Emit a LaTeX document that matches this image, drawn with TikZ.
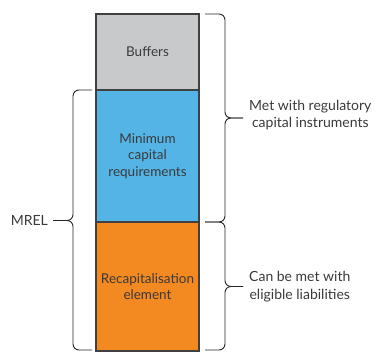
\documentclass[tikz,border=0pt]{standalone}
\usepackage{fontspec}
\setmainfont{Lato}
\usepackage{tikz}
\usetikzlibrary{positioning,calc}
\usepackage{xcolor}
\definecolor{bufgray}{RGB}{200,201,203}
\definecolor{mcrblue}{RGB}{84,180,230}
\definecolor{recorange}{RGB}{242,137,33}
\definecolor{edgegray}{RGB}{64,64,64}
\definecolor{textgray}{RGB}{58,58,58}

\begin{document}
\begin{tikzpicture}[
    x=1pt, y=1pt,
    layer/.style={rectangle, draw=edgegray, line width=1.2pt, outer sep=0pt,
                  minimum width=103pt, align=center, text=textgray,
                  font=\fontsize{13.5}{16.7}\selectfont},
    note/.style={align=center, text=textgray, inner sep=1pt,
                 font=\fontsize{14}{17.5}\selectfont},
    curly/.style={draw=black!85, line width=0.9pt, rounded corners=6pt}
]
\useasboundingbox (0,0) rectangle (380,352);

% Bar
\node[layer, fill=bufgray, minimum height=76pt] (buf) at (147.5,300) {Buffers};
\node[layer, fill=mcrblue, minimum height=132pt, below=0pt of buf] (mcr) {Minimum\\capital\\requirements};
\node[layer, fill=recorange, minimum height=129pt, below=0pt of mcr] (rec) {Recapitalisation\\element};

% Right braces
\coordinate (captip) at ($(buf.north east)!0.5!(mcr.south east)+(44,0)$);
\draw[curly] ($(buf.north east)+(6,0)$) -| ($(captip)+(-18,0)$) -- (captip);
\draw[curly] ($(mcr.south east)+(6,0)$) -| ($(captip)+(-18,0)$) -- (captip);
\node[note, right=5pt of captip, yshift=3pt] (capnote) {Met with regulatory\\capital instruments};

\coordinate (liabtip) at ($(mcr.south east)!0.5!(rec.south east)+(44,0)$);
\draw[curly] ($(mcr.south east)+(6,0)$) -| ($(liabtip)+(-18,0)$) -- (liabtip);
\draw[curly] ($(rec.south east)+(6,1)$) -| ($(liabtip)+(-18,0)$) -- (liabtip);
\node[note, right=5pt of liabtip] (liabnote) {Can be met with\\eligible liabilities};

% Left brace
\coordinate (mreltip) at ($(mcr.north west)!0.5!(rec.south west)+(-43,0)$);
\draw[curly] ($(mcr.north west)+(-4,0)$) -| ($(mreltip)+(20,0)$) -- (mreltip);
\draw[curly] ($(rec.south west)+(-4,1)$) -| ($(mreltip)+(20,0)$) -- (mreltip);
\node[note, left=4pt of mreltip] (mrel) {MREL};

\end{tikzpicture}
\end{document}
